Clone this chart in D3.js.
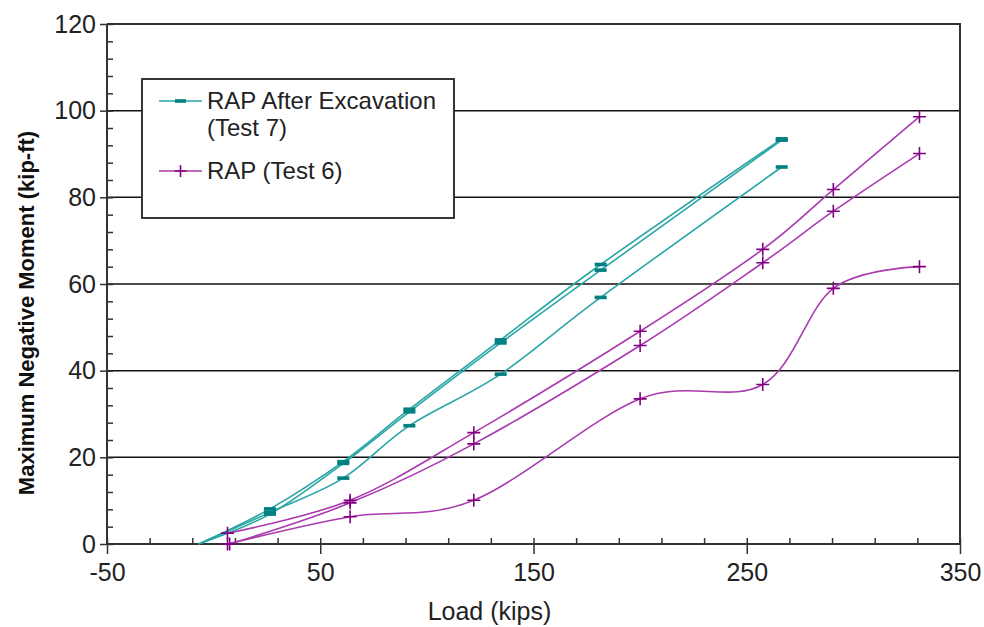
<!DOCTYPE html>
<html>
<head>
<meta charset="utf-8">
<script src="https://cdnjs.cloudflare.com/ajax/libs/d3/7.8.5/d3.min.js"></script>
<style>
  html, body { margin: 0; padding: 0; background: #fff; }
  svg { display: block; font-family: "Liberation Sans", Arial, sans-serif; }
</style>
</head>
<body>
<svg id="chart" width="984" height="627"></svg>
<script>
// ---- data ----
const xTickLabels = [-50, 50, 150, 250, 350];
const yTickLabels = [0, 20, 40, 60, 80, 100, 120];
const legendLabels = ["RAP After Excavation", "(Test 7)", "RAP (Test 6)"];

// Test 7 (teal) - three gauge lines
const test7Loads = [-7, 26.4, 60.8, 91.8, 134.6, 181.5, 266.4];
const test7A = [0, 8.1, 19.0, 31.1, 47.1, 64.5, 93.5];
const test7B = [0, 6.9, 18.6, 30.5, 46.4, 63.2, 93.2];
const test7C = [0, 7.3, 15.2, 27.3, 39.2, 56.9, 87.0];

// Test 6 (purple) - three gauge lines
const test6LoadsA = [6.5, 64, 122, 200, 257.5, 290.6, 331];
const test6LoadsB = [7.5, 64, 122, 200, 257.5, 290.6, 331];
const test6A = [2.5, 10.1, 25.7, 49.1, 68.0, 81.8, 98.6];
const test6B = [0, 9.5, 23.1, 45.8, 64.9, 76.8, 90.1];
const test6C = [0, 6.3, 10.1, 33.5, 36.8, 59.0, 64.0];

// ---- layout ----
const svg = d3.select("#chart");
const L = 107, R = 960, T = 24, B = 544;
const x = d3.scaleLinear().domain([-50, 350]).range([L, R]);
const y = d3.scaleLinear().domain([0, 120]).range([B, T]);

const tealLine = "#2aa5a5", tealMark = "#008080";
const purpLine = "#a93aaf", purpMark = "#800080";

// grid lines
svg.append("g").selectAll("line")
  .data([20, 40, 60, 80, 100])
  .join("line")
  .attr("x1", L).attr("x2", R)
  .attr("y1", d => y(d)).attr("y2", d => y(d))
  .attr("stroke", "#111").attr("stroke-width", 1.5);

// plot border (top & right)
svg.append("path")
  .attr("d", `M${L},${T}H${R}V${B}`)
  .attr("fill", "none").attr("stroke", "#333").attr("stroke-width", 2);

// minor ticks (inside)
const xMinor = d3.range(-50, 351, 20);
svg.append("g").attr("transform", `translate(0,${B})`)
  .call(d3.axisTop(x).tickValues(xMinor).tickSize(6).tickFormat(""))
  .call(g => g.select(".domain").remove())
  .selectAll("line").attr("stroke", "#333").attr("stroke-width", 1.5);
const yMinor = d3.range(0, 121, 4);
svg.append("g").attr("transform", `translate(${L},0)`)
  .call(d3.axisRight(y).tickValues(yMinor).tickSize(6).tickFormat(""))
  .call(g => g.select(".domain").remove())
  .selectAll("line").attr("stroke", "#333").attr("stroke-width", 1.5);

// major axes
const fmt = d => String(d);
const xAxis = svg.append("g").attr("transform", `translate(0,${B})`)
  .call(d3.axisBottom(x).tickValues(xTickLabels).tickSize(10).tickPadding(9).tickFormat(fmt));
xAxis.select(".domain").attr("d", `M${L},0H${R}`).attr("stroke", "#333").attr("stroke-width", 2);
xAxis.selectAll("line").attr("stroke", "#333").attr("stroke-width", 1.5);
xAxis.selectAll("text").attr("font-size", 25).attr("fill", "#222")
  .style("font-family", "'Liberation Sans', Arial, sans-serif");

const yAxis = svg.append("g").attr("transform", `translate(${L},0)`)
  .call(d3.axisLeft(y).tickValues(yTickLabels).tickSize(7).tickPadding(4).tickFormat(fmt));
yAxis.select(".domain").attr("d", `M0,${T}V${B}`).attr("stroke", "#333").attr("stroke-width", 2);
yAxis.selectAll("line").attr("stroke", "#333").attr("stroke-width", 1.5);
yAxis.selectAll("text").attr("font-size", 25).attr("fill", "#222")
  .style("font-family", "'Liberation Sans', Arial, sans-serif");

// axis titles
svg.append("text")
  .attr("x", (L + R) / 2 - 44).attr("y", 620)
  .attr("text-anchor", "middle").attr("font-size", 25).attr("fill", "#222")
  .text("Load (kips)");
svg.append("text")
  .attr("transform", `translate(34,${(T + B) / 2 + 29}) rotate(-90)`)
  .attr("text-anchor", "middle").attr("font-size", 22).attr("font-weight", "bold").attr("fill", "#111")
  .text("Maximum Negative Moment (kip-ft)");

// series
const line = d3.line().x(d => x(d[0])).y(d => y(d[1])).curve(d3.curveCatmullRom.alpha(0));
const zip = (xs, ys) => xs.map((v, i) => [v, ys[i]]);

const teal = [zip(test7Loads, test7A), zip(test7Loads, test7B), zip(test7Loads, test7C)];
const purp = [zip(test6LoadsA, test6A), zip(test6LoadsB, test6B), zip(test6LoadsA, test6C)];

const plot = svg.append("g");
teal.forEach(s => {
  plot.append("path").attr("d", line(s)).attr("fill", "none")
    .attr("stroke", tealLine).attr("stroke-width", 1.6);
});
purp.forEach(s => {
  plot.append("path").attr("d", line(s)).attr("fill", "none")
    .attr("stroke", purpLine).attr("stroke-width", 1.6);
});
teal.forEach(s => {
  plot.append("g").selectAll("rect").data(s.slice(1)).join("rect")
    .attr("x", d => x(d[0]) - 6).attr("y", d => y(d[1]) - 1.8)
    .attr("width", 12).attr("height", 3.6).attr("fill", tealMark);
});
const plusPath = (cx, cy, r) => `M${cx - r},${cy}H${cx + r}M${cx},${cy - r}V${cy + r}`;
purp.forEach(s => {
  plot.append("g").selectAll("path").data(s).join("path")
    .attr("d", d => plusPath(x(d[0]), y(d[1]), 6.5))
    .attr("stroke", purpMark).attr("stroke-width", 1.6).attr("fill", "none");
});

// legend
const lg = svg.append("g");
lg.append("rect").attr("x", 142).attr("y", 79).attr("width", 312).attr("height", 139)
  .attr("fill", "#fff").attr("stroke", "#222").attr("stroke-width", 1.8);
lg.append("line").attr("x1", 159).attr("x2", 202).attr("y1", 101).attr("y2", 101)
  .attr("stroke", tealLine).attr("stroke-width", 1.6);
lg.append("rect").attr("x", 175).attr("y", 99.2).attr("width", 11).attr("height", 3.6).attr("fill", tealMark);
lg.append("line").attr("x1", 159).attr("x2", 202).attr("y1", 171).attr("y2", 171)
  .attr("stroke", purpLine).attr("stroke-width", 1.6);
lg.append("path").attr("d", plusPath(180.5, 171, 6)).attr("stroke", purpMark).attr("stroke-width", 1.6);
lg.selectAll("text").data(legendLabels).join("text")
  .attr("x", 207).attr("y", (d, i) => [109, 136, 179][i])
  .attr("font-size", 24).attr("fill", "#222")
  .text(d => d);
</script>
</body>
</html>
